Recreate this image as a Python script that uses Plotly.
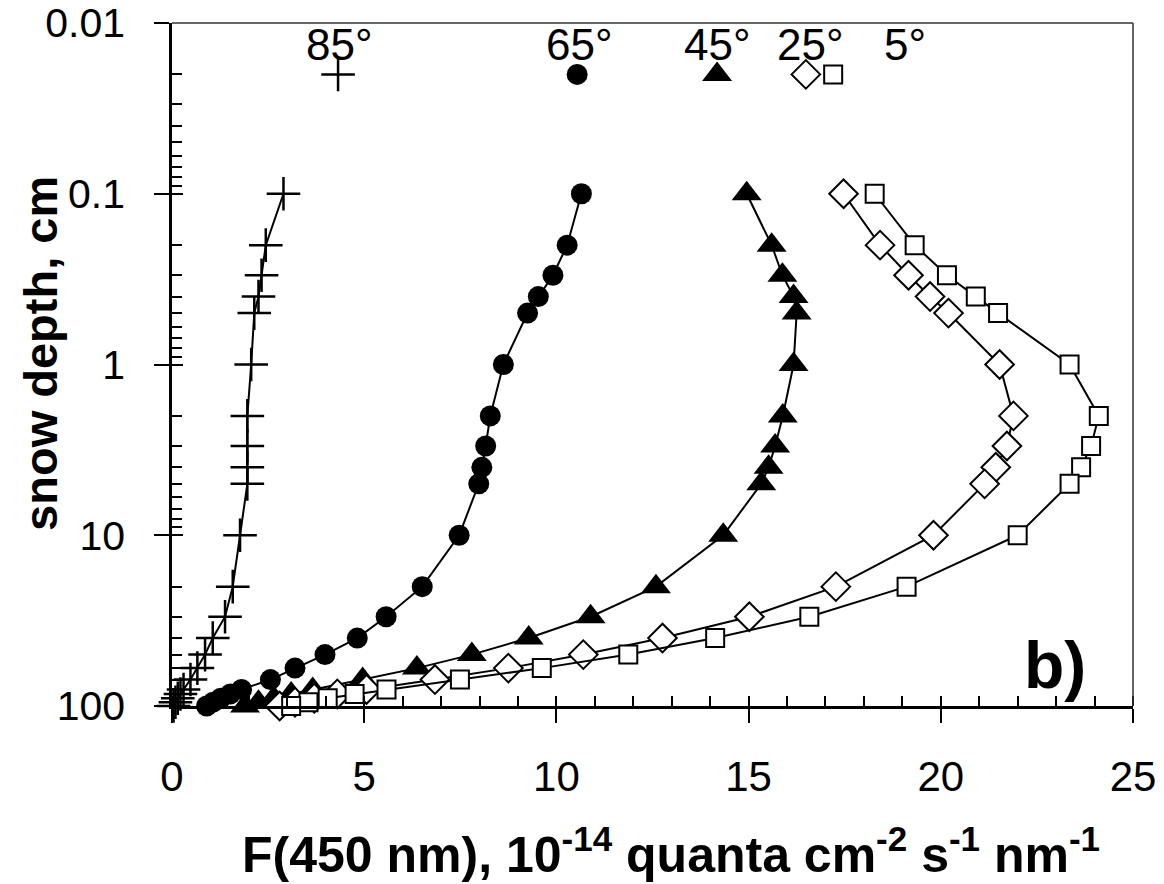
import plotly.graph_objects as go

# ---- data ----
depth_cm = [0.1, 0.2, 0.3, 0.4, 0.5, 1, 2, 3, 4, 5, 10, 20, 30, 40, 50, 60, 70, 80, 85, 90, 95, 100]

F_85 = [2.90, 2.44, 2.33, 2.25, 2.14, 2.06, 1.96, 1.96, 1.96, 1.96, 1.77, 1.58, 1.38, 1.06, 0.86, 0.66, 0.48, 0.30, 0.22, 0.15, 0.09, 0.04]
F_65 = [10.65, 10.28, 9.91, 9.53, 9.25, 8.62, 8.28, 8.16, 8.06, 7.98, 7.47, 6.51, 5.57, 4.82, 3.98, 3.20, 2.56, 1.81, 1.52, 1.27, 1.07, 0.90]
F_45 = [14.95, 15.60, 15.88, 16.17, 16.25, 16.17, 15.89, 15.69, 15.52, 15.33, 14.34, 12.59, 10.89, 9.28, 7.80, 6.37, 4.96, 3.66, 3.10, 2.65, 2.25, 1.90]
F_25 = [17.47, 18.42, 19.16, 19.72, 20.20, 21.53, 21.89, 21.72, 21.43, 21.14, 19.81, 17.27, 15.02, 12.76, 10.70, 8.75, 6.84, 5.06, 4.30, 3.70, 3.20, 2.80]
F_5 = [18.28, 19.32, 20.16, 20.91, 21.49, 23.35, 24.11, 23.91, 23.65, 23.35, 22.00, 19.11, 16.58, 14.13, 11.87, 9.62, 7.49, 5.58, 4.75, 4.05, 3.55, 3.10]

series_labels = ["85°", "65°", "45°", "25°", "5°"]
key_marker_x = [4.32, 10.54, 14.18, 16.49, 17.20]
key_marker_depth = 0.02
key_label_x = [4.35, 10.6, 14.2, 16.6, 19.07]

x_major = [0, 5, 10, 15, 20, 25]
y_major = [0.01, 0.1, 1, 10, 100]
y_major_text = ["0.01", "0.1", "1", "10", "100"]
y_minor = [m * 10.0 ** e for e in range(-2, 2) for m in range(2, 10)]

x_title = "F(450 nm), 10<sup>-14</sup> quanta cm<sup>-2</sup> s<sup>-1</sup> nm<sup>-1</sup>"
y_title = "snow depth, cm"

FONT = "Liberation Sans, Arial, sans-serif"

styles = [
    dict(symbol="cross-thin", size=24, color="black", line=dict(color="black", width=2.5)),
    dict(symbol="circle", size=21, color="black", line=dict(color="black", width=0)),
    dict(symbol="triangle-up", size=26, color="black", line=dict(color="black", width=0)),
    dict(symbol="diamond", size=22, color="white", line=dict(color="black", width=2)),
    dict(symbol="square", size=18, color="white", line=dict(color="black", width=2)),
]
all_F = [F_85, F_65, F_45, F_25, F_5]

fig = go.Figure()
for F, st, lab in zip(all_F, styles, series_labels):
    fig.add_trace(go.Scatter(
        x=F, y=depth_cm, mode="lines+markers", name=lab,
        line=dict(color="black", width=2),
        marker=st, cliponaxis=False, showlegend=False,
    ))

# key markers at the top of the plot
for xk, st, lab in zip(key_marker_x, styles, series_labels):
    fig.add_trace(go.Scatter(
        x=[xk], y=[key_marker_depth], mode="markers", name=lab + " key",
        marker=st, cliponaxis=False, showlegend=False,
    ))

# dummy trace for the overlay axes (inner part of major ticks)
fig.add_trace(go.Scatter(x=[None], y=[None], xaxis="x2", yaxis="y2",
                         showlegend=False, hoverinfo="skip"))

for xl, lab in zip(key_label_x, series_labels):
    fig.add_annotation(x=xl, xref="x", y=0.968, yref="paper", text=lab,
                       showarrow=False, xanchor="center", yanchor="middle",
                       font=dict(family=FONT, size=44, color="black"))

fig.add_annotation(x=0.919, y=0.06, xref="paper", yref="paper", text="b)",
                   showarrow=False, xanchor="center", yanchor="middle",
                   font=dict(family=FONT, size=66, color="black", weight="bold"))

# axis titles
fig.add_annotation(x=-0.137, y=0.516, xref="paper", yref="paper",
                   text=y_title, textangle=-90, showarrow=False,
                   xanchor="center", yanchor="middle",
                   font=dict(family=FONT, size=47, color="black", weight="bold"))
fig.add_annotation(x=0.519, y=-0.213, xref="paper", yref="paper",
                   text=x_title, showarrow=False,
                   xanchor="center", yanchor="middle",
                   font=dict(family=FONT, size=50, color="black", weight="bold"))

# top and right frame lines
fig.add_shape(type="line", xref="paper", yref="paper", x0=0, x1=1, y0=1, y1=1,
              line=dict(color="#333333", width=1.5))
fig.add_shape(type="line", xref="paper", yref="paper", x0=1, x1=1, y0=0, y1=1,
              line=dict(color="#333333", width=1.5))

fig.update_layout(
    width=1164, height=884,
    margin=dict(l=172, r=31, t=23, b=178),
    plot_bgcolor="white", paper_bgcolor="white",
    font=dict(family=FONT, color="black"),
    xaxis=dict(
        range=[0, 25], tickmode="array", tickvals=x_major, automargin=False,
        ticks="outside", ticklen=14, tickwidth=2, tickcolor="black",
        showline=True, linewidth=2.5, linecolor="black",
        showgrid=False, zeroline=False, ticklabeloverflow="allow",
        tickfont=dict(family=FONT, size=42),
        ticklabelstandoff=18,
        minor=dict(ticks="inside", ticklen=10, tickwidth=2, tickcolor="black",
                   dtick=1, showgrid=False),
    ),
    xaxis2=dict(
        overlaying="x", anchor="y", side="bottom", range=[0, 25],
        tickmode="array", tickvals=x_major, ticks="inside", ticklen=10,
        tickwidth=2, tickcolor="black", showticklabels=False, automargin=False,
        showline=False, showgrid=False, zeroline=False,
    ),
    yaxis=dict(
        type="log", range=[2, -2], tickmode="array", automargin=False,
        tickvals=y_major, ticktext=y_major_text,
        ticks="outside", ticklen=15, tickwidth=2, tickcolor="black",
        showline=True, linewidth=2.5, linecolor="black",
        showgrid=False, zeroline=False, ticklabeloverflow="allow",
        tickfont=dict(family=FONT, size=41),
        ticklabelstandoff=21,
        minor=dict(ticks="inside", ticklen=10, tickwidth=2, tickcolor="black",
                   tickmode="array", tickvals=y_minor, showgrid=False),
    ),
    yaxis2=dict(
        overlaying="y", anchor="x", side="left", type="log", range=[2, -2],
        tickmode="array", tickvals=y_major, ticks="inside", ticklen=11,
        tickwidth=2, tickcolor="black", showticklabels=False, automargin=False,
        showline=False, showgrid=False, zeroline=False,
    ),
)

# remove the default page margin so the figure fills the window exactly
fig.write_html("out.html", config={"displayModeBar": False},
               post_script="document.body.style.margin='0';")
